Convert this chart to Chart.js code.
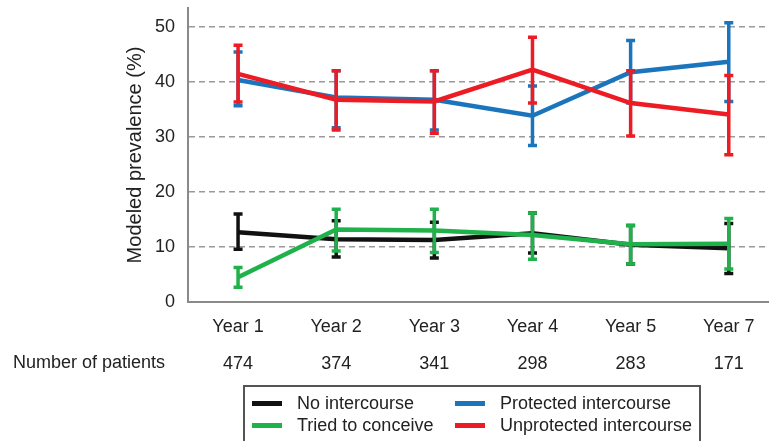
<!DOCTYPE html>
<html>
<head>
<meta charset="utf-8">
<script src="https://cdn.jsdelivr.net/npm/chart.js@4.4.0/dist/chart.umd.min.js"></script>
<style>
  html, body { margin: 0; padding: 0; background: #fff; }
  #wrap { position: relative; width: 769px; height: 441px; overflow: hidden;
    font-family: "Liberation Sans", Arial, sans-serif; color: #222; }
  #chart { position: absolute; left: 0; top: 0; }
  #npLabel { position: absolute; left: 13px; top: 350px; font-size: 18px; line-height: 24px; }
  #legend { position: absolute; left: 243px; top: 385px; width: 458px; height: 70px;
    border: 2px solid #555; box-sizing: border-box; }
  .item { position: absolute; font-size: 18px; line-height: 22px; white-space: nowrap; }
  .item i { position: absolute; left: 0; top: 9px; width: 30px; height: 5px; }
  .item span { position: absolute; left: 45px; top: 0; }
</style>
</head>
<body>
<div id="wrap">
  <canvas id="chart" width="769" height="441"></canvas>
  <div id="npLabel">Number of patients</div>
  <div id="legend"></div>
</div>
<script>
"use strict";

/* =========================================================================
  Data
=========================================================================== */
const YEARS = ["Year 1", "Year 2", "Year 3", "Year 4", "Year 5", "Year 7"];
const PATIENTS = ["474", "374", "341", "298", "283", "171"];
const Y_TICKS = [0, 10, 20, 30, 40, 50];

const NO_SEX = [12.7, 11.4, 11.3, 12.5, 10.4, 9.8];
const NO_SEX_HI = [16.0, 14.8, 14.5, 16.2, 13.9, 14.3];
const NO_SEX_LO = [9.6, 8.2, 8.0, 8.9, 6.9, 5.2];

const CONCEIVE = [4.5, 13.2, 13.0, 12.2, 10.5, 10.6];
const CONCEIVE_HI = [6.3, 16.9, 16.9, 16.2, 13.9, 15.2];
const CONCEIVE_LO = [2.7, 9.3, 9.0, 7.8, 6.9, 6.0];

const PROTECTED = [40.4, 37.2, 36.8, 33.9, 41.8, 43.7];
const PROTECTED_HI = [45.5, 42.1, 42.1, 39.3, 47.6, 50.8];
const PROTECTED_LO = [35.7, 31.7, 31.3, 28.5, 36.2, 36.5];

const UNPROTECTED = [41.5, 36.8, 36.5, 42.3, 36.2, 34.1];
const UNPROTECTED_HI = [46.7, 42.1, 42.1, 48.2, 42.1, 41.2];
const UNPROTECTED_LO = [36.4, 31.3, 30.7, 36.2, 30.2, 26.8];

/* =========================================================================
  Config
=========================================================================== */
const COLORS = {
  none: "#111111",
  conceive: "#1fb24a",
  protected: "#1b75bc",
  unprotected: "#ed1c24",
};
const FONT = { family: "'Liberation Sans', Arial, sans-serif", size: 18 };
const TEXT = "#222";

function points(vals) {
  return vals.map((v, i) => ({ x: i, y: v }));
}

function series(label, vals, hi, lo, color) {
  return {
    label,
    data: points(vals),
    errHi: hi,
    errLo: lo,
    borderColor: color,
    backgroundColor: color,
    borderWidth: 4.5,
    pointRadius: 0,
    tension: 0,
    fill: false,
  };
}

// drop the automatic label padding so the plot box sits where we want it
function noPad(scale) {
  scale.paddingTop = 0;
  scale.paddingBottom = 0;
  scale.paddingLeft = 0;
  scale.paddingRight = 0;
}

/* =========================================================================
  Error bars
=========================================================================== */
const errorBars = {
  id: "errorBars",
  afterDatasetDraw(chart, args) {
    const ds = chart.data.datasets[args.index];
    const { x, y } = chart.scales;
    const ctx = chart.ctx;
    ctx.save();
    ctx.strokeStyle = ds.borderColor;
    ctx.lineCap = "butt";
    ctx.lineWidth = 3.5;
    ds.data.forEach((p, i) => {
      const px = x.getPixelForValue(p.x);
      const top = y.getPixelForValue(ds.errHi[i]);
      const bot = y.getPixelForValue(ds.errLo[i]);
      ctx.beginPath();
      ctx.moveTo(px, top);
      ctx.lineTo(px, bot);
      ctx.moveTo(px - 4.5, top);
      ctx.lineTo(px + 4.5, top);
      ctx.moveTo(px - 4.5, bot);
      ctx.lineTo(px + 4.5, bot);
      ctx.stroke();
    });
    ctx.restore();
  },
};

/* =========================================================================
  Chart
=========================================================================== */
new Chart(document.getElementById("chart"), {
  type: "line",
  data: {
    datasets: [
      series("Unprotected intercourse", UNPROTECTED, UNPROTECTED_HI, UNPROTECTED_LO, COLORS.unprotected),
      series("Protected intercourse", PROTECTED, PROTECTED_HI, PROTECTED_LO, COLORS.protected),
      series("Tried to conceive", CONCEIVE, CONCEIVE_HI, CONCEIVE_LO, COLORS.conceive),
      series("No intercourse", NO_SEX, NO_SEX_HI, NO_SEX_LO, COLORS.none),
    ],
  },
  options: {
    responsive: false,
    animation: false,
    layout: { padding: { top: 8, right: 0, left: 0, bottom: 0 } },
    plugins: { legend: { display: false }, tooltip: { enabled: false } },
    scales: {
      x: {
        type: "linear",
        min: -0.51,
        max: 5.41,
        afterBuildTicks(scale) {
          scale.ticks = YEARS.map((_, i) => ({ value: i }));
        },
        afterFit(scale) {
          scale.height = 139;
          noPad(scale);
        },
        ticks: {
          color: TEXT,
          font: { ...FONT, lineHeight: 2.06 },
          padding: 6,
          maxRotation: 0,
          autoSkip: false,
          callback: (v) => [YEARS[v], PATIENTS[v]],
        },
        grid: { display: false, drawTicks: false },
        border: { display: true, color: "#8a8a8a", width: 2 },
      },
      y: {
        min: 0,
        max: 53.5,
        afterBuildTicks(scale) {
          scale.ticks = Y_TICKS.map((v) => ({ value: v }));
        },
        afterFit(scale) {
          scale.width = 188;
          noPad(scale);
        },
        ticks: { color: TEXT, font: FONT, padding: 13 },
        grid: {
          drawTicks: false,
          color: (c) => (c.tick && c.tick.value === 0 ? "rgba(0,0,0,0)" : "#9a9a9a"),
          lineWidth: 1.5,
        },
        border: { display: true, color: "#8a8a8a", width: 2, dash: [6, 4] },
        title: {
          display: true,
          text: "Modeled prevalence (%)",
          color: TEXT,
          font: { ...FONT, size: 20 },
          padding: { top: 123, bottom: 0 },
        },
      },
    },
  },
  plugins: [errorBars],
});

/* =========================================================================
  Legend
=========================================================================== */
const LEGEND = [
  ["No intercourse", COLORS.none, 7, 5],
  ["Protected intercourse", COLORS.protected, 210, 5],
  ["Tried to conceive", COLORS.conceive, 7, 27],
  ["Unprotected intercourse", COLORS.unprotected, 210, 27],
];
const legendEl = document.getElementById("legend");
LEGEND.forEach(([text, color, left, top]) => {
  const d = document.createElement("div");
  d.className = "item";
  d.style.left = left + "px";
  d.style.top = top + "px";
  d.innerHTML = `<i style="background:${color}"></i><span>${text}</span>`;
  legendEl.appendChild(d);
});
</script>
</body>
</html>
